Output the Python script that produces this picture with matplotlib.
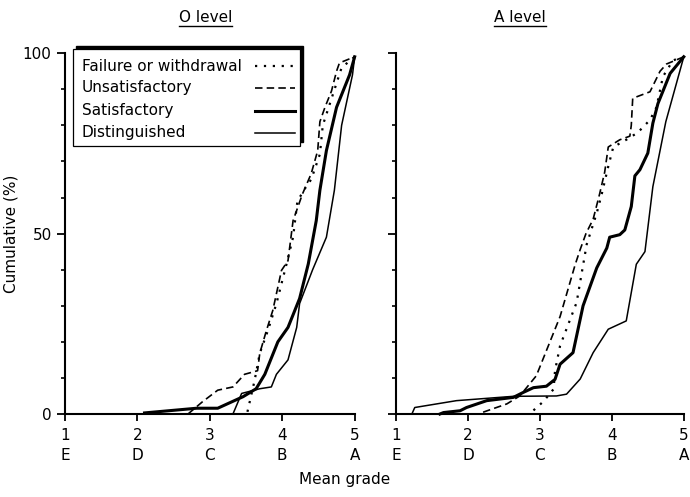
import matplotlib
matplotlib.use("Agg")
import matplotlib.pyplot as plt
from matplotlib.patches import Rectangle
from matplotlib.lines import Line2D
from matplotlib.ticker import MultipleLocator, FixedLocator

plt.rcParams['font.family'] = ['DejaVu Sans']

# ---- data ----
series_names = ["Failure or withdrawal", "Unsatisfactory", "Satisfactory", "Distinguished"]
panel_titles = ["O level", "A level"]
x_ticks = [1, 2, 3, 4, 5]
x_tick_labels = ["1\nE", "2\nD", "3\nC", "4\nB", "5\nA"]
y_tick_labels = ["0", "50", "100"]

# O level
o_fail_x = [3.52, 3.62, 3.69, 3.80, 3.92, 4.06, 4.15, 4.21, 4.33, 4.40, 4.52, 4.56, 4.70, 4.82, 5.0]
o_fail_y = [0.6, 9.4, 16.8, 23, 30.6, 41.6, 49, 59, 63, 65, 72, 80, 88.6, 96, 99]
o_unsat_x = [2.70, 2.90, 3.11, 3.32, 3.48, 3.66, 3.69, 3.78, 3.87, 3.99, 4.08, 4.15, 4.28, 4.40, 4.49, 4.52, 4.59, 4.68, 4.75, 4.79, 5.0]
o_unsat_y = [0, 3.4, 6.6, 7.5, 11, 12, 16.8, 23, 28.7, 39.8, 42.5, 53.6, 61, 66.6, 73, 81, 85, 89.5, 95, 97.3, 99]
o_sat_x = [2.10, 2.82, 3.11, 3.46, 3.64, 3.76, 3.94, 4.08, 4.24, 4.36, 4.47, 4.52, 4.61, 4.75, 4.93, 5.0]
o_sat_y = [0.3, 1.6, 1.6, 4.8, 7, 11, 20, 24, 32, 41.6, 53.6, 62, 73, 85, 94, 99]
o_dist_x = [3.32, 3.44, 3.69, 3.85, 3.92, 4.08, 4.20, 4.24, 4.42, 4.61, 4.72, 4.82, 4.97, 5.0]
o_dist_y = [0, 5.7, 7, 7.5, 11, 15, 24, 30.6, 40, 49, 62, 80, 94, 99]

# A level
a_fail_x = [2.91, 3.05, 3.19, 3.21, 3.28, 3.51, 3.65, 3.79, 3.86, 3.95, 4.02, 4.20, 4.36, 4.53, 4.62, 4.71, 4.85, 5.0]
a_fail_y = [1, 3.5, 6.9, 12, 18.9, 30.9, 47, 55.7, 61, 68.6, 74, 76, 78, 81.5, 85, 93.5, 98, 99]
a_unsat_x = [2.21, 2.54, 2.72, 2.95, 3.28, 3.49, 3.56, 3.64, 3.74, 3.83, 3.90, 3.95, 4.11, 4.25, 4.27, 4.29, 4.41, 4.53, 4.67, 4.76, 5.0]
a_unsat_y = [0.5, 2.8, 5, 10.6, 27, 41.4, 45.6, 50, 54, 61, 67, 74, 76, 77, 80, 87.5, 88.4, 89.3, 95, 97, 99]
a_sat_x = [1.61, 1.66, 1.89, 1.98, 2.26, 2.63, 2.77, 2.91, 3.09, 3.21, 3.28, 3.46, 3.60, 3.79, 3.93, 3.97, 4.11, 4.18, 4.27, 4.32, 4.39, 4.50, 4.57, 4.64, 4.81, 5.0]
a_sat_y = [0, 0.4, 0.9, 1.8, 3.7, 4.6, 6, 7.3, 7.7, 9.6, 13.8, 17, 30, 40.5, 46, 49, 49.7, 51, 57.5, 66, 67.7, 72.3, 80.6, 86, 94.4, 99]
a_dist_x = [1.22, 1.26, 1.84, 2.63, 3.23, 3.37, 3.56, 3.74, 3.95, 4.20, 4.34, 4.46, 4.57, 4.75, 5.0]
a_dist_y = [0, 1.8, 3.7, 4.9, 5, 5.5, 9.7, 17, 23.5, 25.8, 41.5, 45, 63, 81, 99]

panels = [
    [(o_fail_x, o_fail_y), (o_unsat_x, o_unsat_y), (o_sat_x, o_sat_y), (o_dist_x, o_dist_y)],
    [(a_fail_x, a_fail_y), (a_unsat_x, a_unsat_y), (a_sat_x, a_sat_y), (a_dist_x, a_dist_y)],
]

styles = [
    dict(color="black", lw=1.6, linestyle=(0, (1, 3))),
    dict(color="black", lw=1.2, linestyle=(0, (4.5, 2.5))),
    dict(color="black", lw=2.2, linestyle="-"),
    dict(color="black", lw=1.1, linestyle="-"),
]

fig = plt.figure(figsize=(6.9, 4.97), dpi=100)
ax1 = fig.add_axes([0.094, 0.167, 0.420, 0.726])
ax2 = fig.add_axes([0.574, 0.167, 0.417, 0.726])
axes = [ax1, ax2]
title_x = [2.94, 2.72]

for i, ax in enumerate(axes):
    for (xs, ys), st in zip(panels[i], styles):
        ax.plot(xs, ys, clip_on=False, **st)
    ax.set_xlim(1, 5)
    ax.set_ylim(0, 100)
    for s in ["top", "right"]:
        ax.spines[s].set_visible(False)
    for s in ["left", "bottom"]:
        ax.spines[s].set_linewidth(1.5)
    ax.xaxis.set_major_locator(FixedLocator(x_ticks))
    ax.set_xticklabels(x_tick_labels, fontsize=11, linespacing=1.4)
    ax.yaxis.set_major_locator(FixedLocator([0, 50, 100]))
    ax.yaxis.set_minor_locator(MultipleLocator(10))
    ax.tick_params(axis="x", direction="out", length=5, width=1.3, pad=5)
    ax.tick_params(axis="y", which="major", direction="out", length=6, width=1.3)
    ax.tick_params(axis="y", which="minor", direction="out", length=3, width=1.2)
    if i == 0:
        ax.set_yticklabels(y_tick_labels, fontsize=11)
    else:
        ax.set_yticklabels([])
    ax.text(title_x[i], 1.1, panel_titles[i], transform=ax.get_xaxis_transform(),
            ha="center", va="center", fontsize=11)

ax1.set_ylabel("Cumulative (%)", fontsize=11, labelpad=3)
fig.text(0.5, 0.035, "Mean grade", ha="center", va="center", fontsize=11)

# ---- manual legend (text left, line sample right) ----
box_x0, box_x1, box_y0, box_y1 = 1.11, 4.24, 74.3, 101.1
ax1.add_patch(Rectangle((box_x0 + 0.05, box_y0 + 1.0), box_x1 - box_x0, box_y1 - box_y0,
                        facecolor="black", edgecolor="black", zorder=5, clip_on=False))
ax1.add_patch(Rectangle((box_x0, box_y0), box_x1 - box_x0, box_y1 - box_y0,
                        facecolor="white", edgecolor="black", lw=0.9, zorder=6, clip_on=False))
row_y = [96.4, 90.4, 84.0, 77.9]
for name, st, ry in zip(series_names, styles, row_y):
    ax1.text(1.23, ry, name, ha="left", va="center", fontsize=11, zorder=7, clip_on=False)
    ax1.add_line(Line2D([3.62, 4.17], [ry, ry], zorder=7, clip_on=False, **st))

fig.canvas.draw()
W, H = fig.bbox.width, fig.bbox.height
# underline titles
for ax in axes:
    t = ax.texts[0]
    tb = t.get_window_extent()
    y = (tb.y0 - 1.5) / H
    fig.add_artist(Line2D([tb.x0 / W, tb.x1 / W], [y, y], color="black", lw=1.0,
                          transform=fig.transFigure))

fig.savefig("out.png", dpi=100)
